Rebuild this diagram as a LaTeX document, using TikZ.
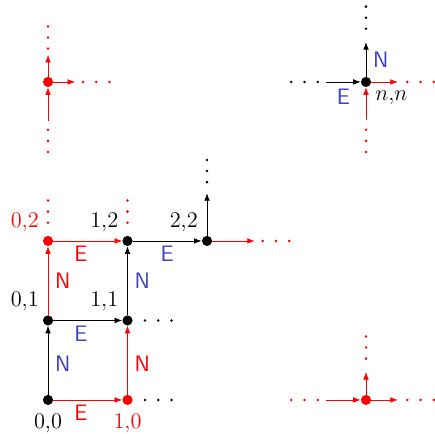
\documentclass[tikz,border=0pt]{standalone}
\usetikzlibrary{arrows.meta}
\definecolor{azul}{RGB}{64,64,191}

\begin{document}
\begin{tikzpicture}[
    x=1.8cm,
    y=1.8cm,
    >=Latex,
    every node/.style={font=\large},
    every label/.style={font=\fontsize{13.5}{16}\selectfont},
    vertice/.style={circle, fill=black, inner sep=0pt, minimum size=0.23cm},
    verticerojo/.style={vertice, fill=red},
    flecha/.style={->},
    flecharoja/.style={->, red},
    letra/.style={font=\Large\sffamily, text=azul},
    letraroja/.style={font=\Large\sffamily, text=red},
    puntosh/.style={line width=1.8pt, line cap=round, dash pattern=on 0pt off 0.3cm},
    puntosv/.style={line width=1.8pt, line cap=round, dash pattern=on 0pt off 0.25cm}
]
\useasboundingbox (-0.604,-0.428) rectangle (4.868,5.031);

\node[vertice, label={[label distance=2pt]below:$0{,}0$}] (v00) at (0,0) {};
\node[verticerojo, label={[red, label distance=2pt]below:$1{,}0$}] (v10) at (1,0) {};
\node[vertice, label={above left:$0{,}1$}] (v01) at (0,1) {};
\node[vertice, label={above left:$1{,}1$}] (v11) at (1,1) {};
\node[verticerojo, label={[red]above left:$0{,}2$}] (v02) at (0,2) {};
\node[vertice, label={above left:$1{,}2$}] (v12) at (1,2) {};
\node[vertice, label={above left:$2{,}2$}] (v22) at (2,2) {};
\node[verticerojo] (vtl) at (0,4) {};
\node[vertice, label={below right:$n{,}n$}] (vnn) at (4,4) {};
\node[verticerojo] (vbr) at (4,0) {};

\coordinate (v22n) at (2,2.6);
\coordinate (v22e) at (2.6,2);
\coordinate (vtln) at (0,4.34);
\coordinate (vtle) at (0.34,4);
\coordinate (vtls) at (0,3.51);
\coordinate (vnnn) at (4,4.5);
\coordinate (vnnw) at (3.5,4);
\coordinate (vnne) at (4.4,4);
\coordinate (vnns) at (4,3.52);
\coordinate (vbrn) at (4,0.35);
\coordinate (vbrw) at (3.5,0);
\coordinate (vbre) at (4.4,0);

\draw[flecharoja] (v00) -- node[below=0pt, pos=0.4, letraroja] {E} (v10);
\draw[flecharoja] (v10) -- node[right=1pt, pos=0.45, letraroja] {N} (v11);
\draw[flecha] (v00) -- node[right=1pt, pos=0.45, letra] {N} (v01);
\draw[flecha] (v01) -- node[below=0pt, pos=0.4, letra] {E} (v11);
\draw[flecharoja] (v01) -- node[right=1pt, pos=0.5, letraroja] {N} (v02);
\draw[flecha] (v11) -- node[right=1pt, pos=0.5, letra] {N} (v12);
\draw[flecharoja] (v02) -- node[below=0pt, pos=0.4, letraroja] {E} (v12);
\draw[flecha] (v12) -- node[below=0pt, pos=0.5, letra] {E} (v22);
\draw[flecha] (v22) -- (v22n);
\draw[flecharoja] (v22) -- (v22e);

\draw[flecharoja] (vtl) -- (vtln);
\draw[flecharoja] (vtl) -- (vtle);
\draw[flecharoja] (vtls) -- (vtl);

\draw[flecha] (vnnw) -- node[below=1pt, letra] {E} (vnn);
\draw[flecha] (vnn) -- node[right=1pt, letra] {N} (vnnn);
\draw[flecharoja] (vnn) -- (vnne);
\draw[flecharoja] (vnns) -- (vnn);

\draw[flecharoja] (vbrw) -- (vbr);
\draw[flecharoja] (vbr) -- (vbre);
\draw[flecharoja] (vbr) -- (vbrn);

\draw[puntosh] (1.22,0) -- ++(0.34,0);
\draw[puntosh] (1.22,1) -- ++(0.34,0);
\draw[puntosv, red] (0,2.23) -- ++(0,0.28);
\draw[puntosv, red] (1,2.23) -- ++(0,0.28);
\draw[puntosv] (2,2.74) -- ++(0,0.28);
\draw[puntosh, red] (2.70,2) -- ++(0.34,0);

\draw[puntosv, red] (0,4.42) -- ++(0,0.28);
\draw[puntosv, red] (0,3.12) -- ++(0,0.28);
\draw[puntosh, red] (0.44,4) -- ++(0.34,0);

\draw[puntosv] (4,4.67) -- ++(0,0.28);
\draw[puntosh] (3.06,4) -- ++(0.34,0);
\draw[puntosh, red] (4.52,4) -- ++(0.34,0);
\draw[puntosv, red] (4,3.12) -- ++(0,0.28);

\draw[puntosv, red] (4,0.52) -- ++(0,0.28);
\draw[puntosh, red] (3.06,0) -- ++(0.34,0);
\draw[puntosh, red] (4.52,0) -- ++(0.34,0);

\end{tikzpicture}
\end{document}
